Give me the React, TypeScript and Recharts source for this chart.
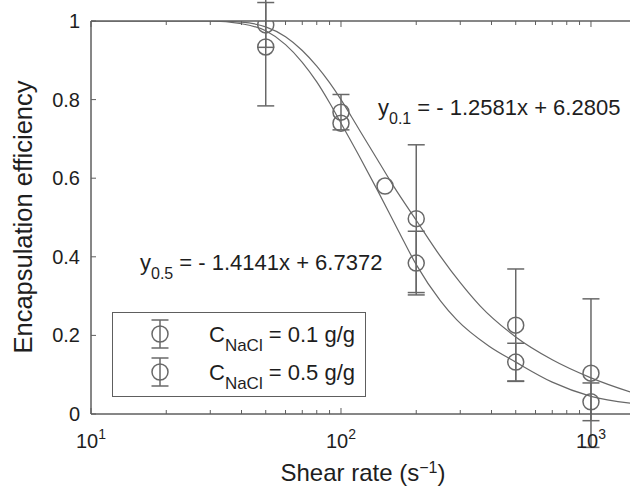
import React from 'react';
import { ComposedChart, Line, Scatter, ErrorBar, XAxis, YAxis, Legend, ReferenceArea } from 'recharts';

const FONT = '"Liberation Sans", Arial, Helvetica, sans-serif';
const MARK = '#686868';
const AXIS = '#5e5e5e';
const INK = '#1e1e1e';

// measured points, C_NaCl = 0.1 g/g
const rate01 = [50, 100, 150, 200, 500, 1000];
const eff01 = [0.99, 0.768, 0.58, 0.497, 0.226, 0.104];
const err01 = [0.057, 0.045, 0, 0.188, 0.143, 0.189];

// measured points, C_NaCl = 0.5 g/g
const rate05 = [50, 100, 200, 500, 1000];
const eff05 = [0.934, 0.74, 0.384, 0.132, 0.031];
const err05 = [0.15, 0, 0.081, 0.048, 0.048];

// fitted curves, values
const fitRate01 = [10, 20, 30, 40, 50, 60, 70, 80, 90, 100, 110, 120, 140, 163, 200, 250, 300, 360, 500, 700, 1000, 1500];
const fit01 = [1.0, 1.0, 1.0, 0.997, 0.985, 0.96, 0.925, 0.885, 0.843, 0.8, 0.757, 0.717, 0.647, 0.578, 0.493, 0.401, 0.334, 0.275, 0.196, 0.138, 0.092, 0.052];
const fitRate05 = [10, 20, 30, 40, 50, 60, 70, 80, 90, 100, 120, 140, 170, 200, 250, 290, 390, 500, 700, 1000, 1500];
const fit05 = [1.0, 1.0, 1.0, 0.993, 0.975, 0.94, 0.895, 0.845, 0.792, 0.74, 0.649, 0.569, 0.465, 0.38, 0.288, 0.24, 0.173, 0.132, 0.081, 0.045, 0.026];

const xMajor = [10, 100, 1000];
const xMajorExp = ['1', '2', '3'];
const xMinor = [20, 30, 40, 50, 60, 70, 80, 90, 200, 300, 400, 500, 600, 700, 800, 900];
const yTicks = [0, 0.2, 0.4, 0.6, 0.8, 1];
const yTickLabels = ['0', '0.2', '0.4', '0.6', '0.8', '1'];
const legendConc = ['0.1', '0.5'];

const pts01 = rate01.map((g, i) => ({ g, e: eff01[i], err: err01[i] }));
const pts05 = rate05.map((g, i) => ({ g, e: eff05[i], err: err05[i] }));
const curve01 = fitRate01.map((g, i) => ({ g, e: fit01[i] }));
const curve05 = fitRate05.map((g, i) => ({ g, e: fit05[i] }));
const allXTicks = [...xMajor, ...xMinor].sort((a, b) => a - b);

const XTickBottom = (props: any) => {
  const { x, y, payload } = props;
  const idx = xMajor.indexOf(payload.value);
  const major = idx >= 0;
  return (
    <g>
      <line x1={x} x2={x} y1={y} y2={y - (major ? 6 : 4)} stroke={AXIS} strokeWidth={1} />
      {major && (
        <text x={x} y={y + 34} textAnchor="middle" fontSize={20} fill={INK} fontFamily={FONT}>
          10<tspan dy={-9} fontSize={14}>{xMajorExp[idx]}</tspan>
        </text>
      )}
    </g>
  );
};

const XTickTop = (props: any) => {
  const { x, y, payload } = props;
  const major = xMajor.indexOf(payload.value) >= 0;
  return <line x1={x} x2={x} y1={y} y2={y + (major ? 6 : 4)} stroke={AXIS} strokeWidth={1} />;
};

const YTick = (props: any) => {
  const { y, payload } = props;
  const idx = yTicks.indexOf(payload.value);
  return (
    <g>
      <line x1={91} x2={96} y1={y} y2={y} stroke={AXIS} strokeWidth={1} />
      <text x={80} y={y + 7} textAnchor="end" fontSize={20} fill={INK} fontFamily={FONT}>
        {yTickLabels[idx]}
      </text>
    </g>
  );
};

const circleShape = (props: any) => (
  <circle cx={props.cx} cy={props.cy} r={8} fill="none" stroke={MARK} strokeWidth={1.5} />
);

const renderLegend = () => (
  <svg width={254} height={85} style={{ display: 'block' }}>
    <rect x={0.5} y={0.5} width={253} height={84} fill="#fff" stroke={AXIS} strokeWidth={1} />
    {legendConc.map((c, i) => {
      const cy = 22 + i * 38;
      return (
        <g key={c}>
          <line x1={48} x2={48} y1={cy - 14} y2={cy + 14} stroke={MARK} strokeWidth={1.5} />
          <line x1={39.5} x2={56.5} y1={cy - 14} y2={cy - 14} stroke={MARK} strokeWidth={1.5} />
          <line x1={39.5} x2={56.5} y1={cy + 14} y2={cy + 14} stroke={MARK} strokeWidth={1.5} />
          <circle cx={48} cy={cy} r={8} fill="none" stroke={MARK} strokeWidth={1.5} />
          <text x={97} y={cy + 8} fontSize={22} fill={INK} fontFamily={FONT}>
            C<tspan dy={9} fontSize={17}>NaCl</tspan>
            <tspan dy={-9}> = {c} g/g</tspan>
          </text>
        </g>
      );
    })}
  </svg>
);

export default function App() {
  return (
    <div style={{ position: 'absolute', left: 0, top: 0, width: 630, height: 489, overflow: 'hidden', background: '#fff' }}>
      <ComposedChart width={640} height={489} margin={{ top: 20, right: 5, bottom: 0, left: 0 }}>
        <XAxis
          xAxisId={0}
          dataKey="g"
          type="number"
          scale="log"
          domain={[10, 1500]}
          allowDataOverflow
          ticks={allXTicks}
          interval={0}
          tickSize={0}
          tickMargin={0}
          height={75}
          axisLine={{ stroke: AXIS, strokeWidth: 1 }}
          tickLine={false}
          tick={<XTickBottom />}
        />
        <XAxis
          xAxisId="top"
          orientation="top"
          dataKey="g"
          type="number"
          scale="log"
          domain={[10, 1500]}
          allowDataOverflow
          ticks={allXTicks}
          interval={0}
          tickSize={0}
          tickMargin={0}
          height={1}
          axisLine={{ stroke: AXIS, strokeWidth: 1 }}
          tickLine={false}
          tick={<XTickTop />}
        />
        <YAxis
          dataKey="e"
          type="number"
          domain={[0, 1]}
          allowDataOverflow
          ticks={yTicks}
          interval={0}
          tickSize={0}
          tickMargin={0}
          width={91}
          axisLine={{ stroke: AXIS, strokeWidth: 1 }}
          tickLine={false}
          tick={<YTick />}
        />
        <ReferenceArea x1={10} x2={1500} y1={0} y2={1} fill="none" stroke={AXIS} strokeWidth={1} ifOverflow="visible" />
        <Line data={curve01} dataKey="e" type="monotone" stroke={MARK} strokeWidth={1.2} dot={false} activeDot={false} isAnimationActive={false} />
        <Line data={curve05} dataKey="e" type="monotone" stroke={MARK} strokeWidth={1.2} dot={false} activeDot={false} isAnimationActive={false} />
        <Scatter data={pts01} dataKey="e" shape={circleShape} isAnimationActive={false}>
          <ErrorBar dataKey="err" direction="y" width={8.5} stroke={MARK} strokeWidth={1.5} />
        </Scatter>
        <Scatter data={pts05} dataKey="e" shape={circleShape} isAnimationActive={false}>
          <ErrorBar dataKey="err" direction="y" width={8.5} stroke={MARK} strokeWidth={1.5} />
        </Scatter>
        <Legend
          content={renderLegend}
          layout="horizontal"
          verticalAlign="middle"
          wrapperStyle={{ left: 112, top: 312, width: 254, height: 85 }}
        />
      </ComposedChart>
      <svg width={630} height={489} style={{ position: 'absolute', left: 0, top: 0, pointerEvents: 'none' }}>
        <text transform="translate(32,217) rotate(-90)" textAnchor="middle" fontSize={25.5} fill={INK} fontFamily={FONT}>
          Encapsulation efficiency
        </text>
        <text x={363} y={481} textAnchor="middle" fontSize={24} fill={INK} fontFamily={FONT}>
          Shear rate (s<tspan dy={-8} fontSize={16}>−1</tspan><tspan dy={8}>)</tspan>
        </text>
        <text x={378} y={115} fontSize={22} fill={INK} fontFamily={FONT}>
          y<tspan dy={9} fontSize={16}>0.1</tspan><tspan dy={-9}> = - 1.2581x + 6.2805</tspan>
        </text>
        <text x={140} y={270} fontSize={22} fill={INK} fontFamily={FONT}>
          y<tspan dy={9} fontSize={16}>0.5</tspan><tspan dy={-9}> = - 1.4141x + 6.7372</tspan>
        </text>
      </svg>
    </div>
  );
}
